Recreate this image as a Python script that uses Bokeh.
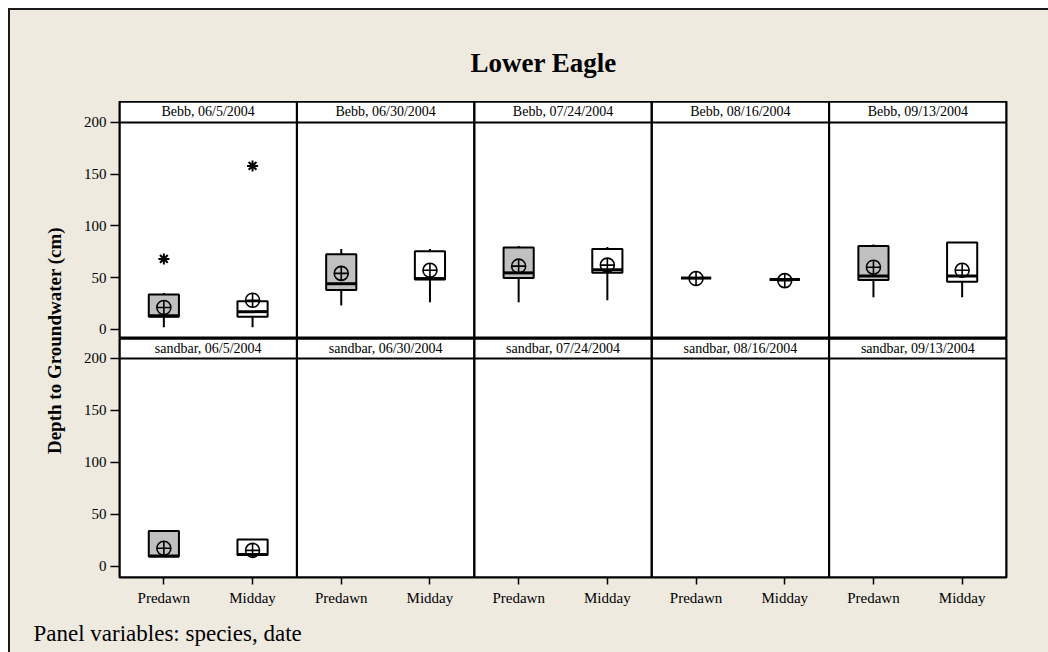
import math
from bokeh.plotting import figure
from bokeh.layouts import row, column
from bokeh.models import FactorRange, Range1d, FixedTicker, Span, ColumnDataSource
from bokeh.core.properties import value
from bokeh.embed import file_html
from bokeh.resources import INLINE

NAN = float("nan")

title_text = "Lower Eagle"
y_label = "Depth to Groundwater (cm)"
footer_text = "Panel variables: species, date"

species = ["Bebb", "sandbar"]
dates = ["06/5/2004", "06/30/2004", "07/24/2004", "08/16/2004", "09/13/2004"]
times = ["Predawn", "Midday"]
y_ticks = [0, 50, 100, 150, 200]

# order: for each date -> Predawn, Midday
bebb_q1 = [12, 12, 38, 48, 49.5, 54.5, 49.5, 48, 47.5, 46]
bebb_median = [13, 17, 44, 49, 54.5, 57.5, 49.5, 48, 51.5, 51.5]
bebb_q3 = [33.5, 27, 72.5, 75.5, 79, 77.5, 49.5, 48, 80.5, 84]
bebb_low = [2, 2, 23, 26, 26, 28, 49.5, 48, 31, 31]
bebb_high = [35, 27.5, 77.5, 77.5, 80.5, 79.5, 49.5, 48, 82, 84]
bebb_mean = [21, 28, 54, 57, 61, 62, 49, 47, 60, 57]
bebb_out_date = ["06/5/2004", "06/5/2004"]
bebb_out_time = ["Predawn", "Midday"]
bebb_out_value = [68, 158]

sandbar_q1 = [9.5, 11, NAN, NAN, NAN, NAN, NAN, NAN, NAN, NAN]
sandbar_median = [10, 11.5, NAN, NAN, NAN, NAN, NAN, NAN, NAN, NAN]
sandbar_q3 = [34, 26, NAN, NAN, NAN, NAN, NAN, NAN, NAN, NAN]
sandbar_low = [9.5, 11, NAN, NAN, NAN, NAN, NAN, NAN, NAN, NAN]
sandbar_high = [34.5, 26.5, NAN, NAN, NAN, NAN, NAN, NAN, NAN, NAN]
sandbar_mean = [17.5, 15.5, NAN, NAN, NAN, NAN, NAN, NAN, NAN, NAN]
sandbar_out_date = []
sandbar_out_time = []
sandbar_out_value = []

BEIGE = "#EEEAE0"
GRAY = "#C0C0C0"
FONT = "Liberation Serif"

factors = [(d, t) for d in dates for t in times]
fills = [GRAY if t == "Predawn" else "white" for d in dates for t in times]
xr = FactorRange(factors=factors, factor_padding=0, subgroup_padding=0,
                 group_padding=0, range_padding=0)

stats = {
    "Bebb": (bebb_q1, bebb_median, bebb_q3, bebb_low, bebb_high, bebb_mean,
             bebb_out_date, bebb_out_time, bebb_out_value),
    "sandbar": (sandbar_q1, sandbar_median, sandbar_q3, sandbar_low, sandbar_high,
                sandbar_mean, sandbar_out_date, sandbar_out_time, sandbar_out_value),
}

BOX_W = 0.34
TOTAL_W = 1038


def panel_row(sp, height, y0, y1, show_x):
    q1, med, q3, lo, hi, mn, od, ot, ov = stats[sp]
    p = figure(width=TOTAL_W - 60, height=height, x_range=xr, y_range=Range1d(y0, y1),
               output_backend="svg", toolbar_location=None,
               x_axis_location="below" if show_x else None,
               min_border=0, min_border_left=49, min_border_right=TOTAL_W - 60 - 49 - 887,
               min_border_top=0, min_border_bottom=35 if show_x else 0)
    p.background_fill_color = "white"
    p.border_fill_color = BEIGE
    p.outline_line_color = "black"
    p.outline_line_width = 2
    p.xgrid.visible = False
    p.ygrid.visible = False

    src = ColumnDataSource(dict(x=factors, q1=q1, med=med, q3=q3, lo=lo, hi=hi,
                                mean=mn, fill=fills))
    p.segment(x0="x", y0="q3", x1="x", y1="hi", source=src, line_color="black", line_width=2)
    p.segment(x0="x", y0="q1", x1="x", y1="lo", source=src, line_color="black", line_width=2)
    p.vbar(x="x", width=BOX_W, bottom="q1", top="q3", source=src,
           fill_color="fill", line_color="black", line_width=2)
    p.rect(x="x", y="med", width=BOX_W, height=3, height_units="screen", source=src,
           fill_color="black", line_color=None)
    p.scatter(x="x", y="mean", source=src, marker="circle_cross", size=14,
              fill_color=None, line_color="black", line_width=1.6)
    if ov:
        p.scatter(x=[(d, t) for d, t in zip(od, ot)], y=ov, marker="asterisk",
                  size=11, line_color="black", line_width=2)

    # panel frames and strips
    p.vbar(x=dates, width=2, bottom=y0 - 20, top=y1 + 20, fill_color=None,
           line_color="black", line_width=2)
    p.add_layout(Span(location=y_ticks[-1], dimension="width", line_color="black",
                      line_width=2))
    strip_mid = (y_ticks[-1] + y1) / 2
    p.text(x=dates, y=[strip_mid] * len(dates), text=[f"{sp}, {d}" for d in dates],
           text_font=value(FONT), text_font_size="14px", text_color="black",
           text_align="center", text_baseline="middle")

    p.yaxis.ticker = FixedTicker(ticks=y_ticks)
    p.yaxis.axis_line_color = None
    p.yaxis.major_tick_out = 9
    p.yaxis.major_tick_in = 0
    p.yaxis.major_tick_line_width = 1.5
    p.yaxis.minor_tick_line_color = None
    p.yaxis.major_label_text_font = FONT
    p.yaxis.major_label_text_font_size = "15px"
    p.yaxis.major_label_text_color = "black"
    p.yaxis.major_label_standoff = 4
    if show_x:
        ax = p.xaxis[0]
        ax.axis_line_color = None
        ax.major_tick_out = 7
        ax.major_tick_in = 0
        ax.major_tick_line_width = 1.5
        ax.major_label_text_font = FONT
        ax.major_label_text_font_size = "15px"
        ax.major_label_text_color = "black"
        ax.major_label_standoff = 5
        ax.major_label_orientation = "horizontal"
        ax.group_text_font_size = "0px"
        ax.group_text_color = None
        ax.separator_line_color = None
    return p


def blank(width, height):
    f = figure(width=width, height=height, x_range=Range1d(0, width), y_range=Range1d(0, height),
               output_backend="svg", toolbar_location=None, min_border=0,
               x_axis_location=None, y_axis_location=None)
    f.background_fill_color = BEIGE
    f.border_fill_color = BEIGE
    f.outline_line_color = None
    f.grid.visible = False
    return f


title_fig = blank(TOTAL_W, 91)
title_fig.text(x=[533], y=[91 - 52], text=[title_text], text_font=value(FONT),
               text_font_size="27px", text_font_style="bold", text_color="black",
               text_align="center", text_baseline="middle")

row1 = panel_row("Bebb", 237, -9.0, 220.3, False)
row2 = panel_row("sandbar", 274, -10.6, 219.2, True)

label_fig = blank(60, 511)
label_fig.text(x=[44], y=[511 - 239], text=[y_label], text_font=value(FONT),
               text_font_size="19px", text_font_style="bold", text_color="black",
               text_align="center", text_baseline="middle", angle=math.pi / 2)

FOOT_H = 40
footer_fig = blank(TOTAL_W, FOOT_H)
footer_fig.text(x=[23], y=[FOOT_H - 21], text=[footer_text], text_font=value(FONT),
                text_font_size="23px", text_color="black",
                text_align="left", text_baseline="alphabetic")

layout = column(title_fig, row(label_fig, column(row1, row2)), footer_fig,
                styles={"margin-left": "8px", "margin-top": "8px",
                        "background-color": BEIGE,
                        "border-top": "2px solid #1a1a1a",
                        "border-left": "2px solid #1a1a1a"})

with open("out.html", "w") as fh:
    fh.write(file_html(layout, INLINE))
